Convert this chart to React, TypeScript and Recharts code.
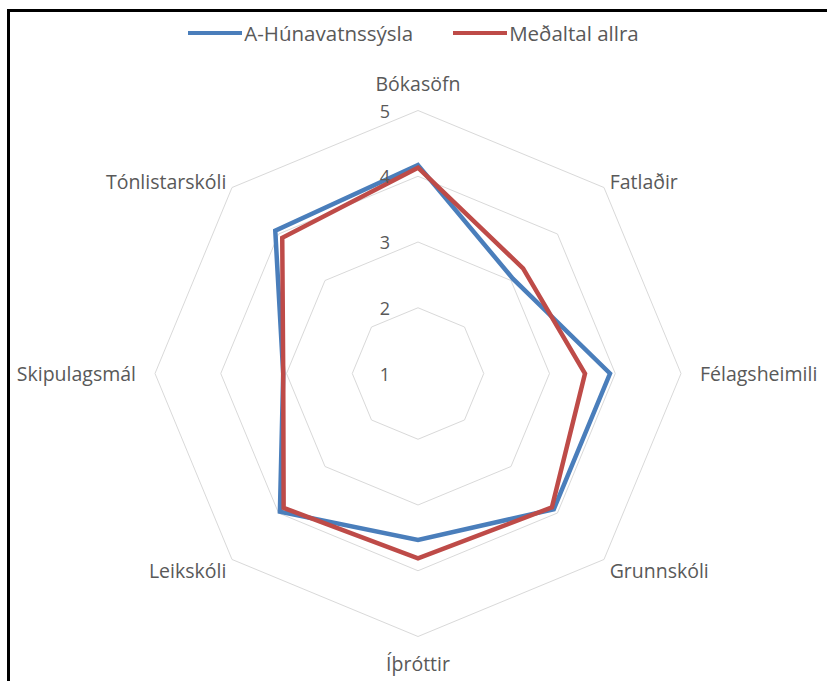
import { PolarAngleAxis, PolarGrid, PolarRadiusAxis, Radar, RadarChart } from "recharts";

const categories = [
  "Bókasöfn",
  "Fatlaðir",
  "Félagsheimili",
  "Grunnskóli",
  "Íþróttir",
  "Leikskóli",
  "Skipulagsmál",
  "Tónlistarskóli",
];
const husValues = [4.17, 3.04, 3.92, 3.92, 3.53, 3.97, 3.05, 4.07];
const avgValues = [4.13, 3.26, 3.54, 3.88, 3.81, 3.89, 3.05, 3.92];
const seriesNames = ["A-Húnavatnssýsla", "Meðaltal allra"];
const radiusTicks = [1, 2, 3, 4, 5];

const data = categories.map((name, i) => ({
  name,
  hus: husValues[i],
  avg: avgValues[i],
}));

const CX = 418;
const CY = 373.5;
const FONT = "'Open Sans', Lato, sans-serif";
const TEXT = "#595959";
const BLUE = "#4a7ebb";
const RED = "#be4b48";

function AngleTick(props: any) {
  const { x, y, payload } = props;
  const dx = x - CX;
  const dy = y - CY;
  let anchor = "middle";
  let tx = x;
  let ty = y;
  if (Math.abs(dx) < 1) {
    ty = y + (dy < 0 ? -19 : 19);
  } else if (Math.abs(dy) < 1) {
    anchor = dx > 0 ? "start" : "end";
    tx = x + (dx > 0 ? 11 : -11);
  } else {
    anchor = dx > 0 ? "start" : "end";
    ty = y + (dy > 0 ? 5 : 0);
  }
  return (
    <text
      x={tx}
      y={ty}
      textAnchor={anchor}
      dominantBaseline="central"
      fontSize={19.5}
      fontFamily={FONT}
      fill={TEXT}
    >
      {payload.value}
    </text>
  );
}

function RadiusTick(props: any) {
  const { x, y, payload } = props;
  return (
    <text
      x={x - 33}
      y={y}
      textAnchor="middle"
      dominantBaseline="central"
      fontSize={18}
      fontFamily={FONT}
      fill={TEXT}
    >
      {payload.value}
    </text>
  );
}

export default function App() {
  const colors = [BLUE, RED];
  return (
    <div
      style={{
        position: "absolute",
        left: 0,
        top: 0,
        width: 827,
        height: 681,
        background: "#fff",
        overflow: "hidden",
      }}
    >
      <div
        style={{
          position: "absolute",
          left: 7,
          top: 9,
          width: 830,
          height: 680,
          borderTop: "3px solid #000",
          borderLeft: "3px solid #000",
        }}
      />
      <div
        style={{
          position: "absolute",
          top: 19,
          left: 0,
          width: 827,
          display: "flex",
          justifyContent: "center",
          gap: 40,
          fontFamily: FONT,
          fontSize: 20.5,
          color: TEXT,
        }}
      >
        {seriesNames.map((n, i) => (
          <div key={n} style={{ display: "flex", alignItems: "center" }}>
            <div style={{ width: 54, height: 4, background: colors[i], marginRight: 2 }} />
            <span>{n}</span>
          </div>
        ))}
      </div>
      <div style={{ position: "absolute", left: 0, top: 0 }}>
        <RadarChart
          width={827}
          height={681}
          data={data}
          cx={CX}
          cy={CY}
          outerRadius={263}
          margin={{ top: 0, right: 0, bottom: 0, left: 0 }}
        >
          <PolarGrid gridType="polygon" radialLines={false} stroke="#d9d9d9" strokeWidth={1} />
          <PolarAngleAxis dataKey="name" tick={<AngleTick />} tickLine={false} axisLine={false} />
          <PolarRadiusAxis
            angle={90}
            domain={[1, 5]}
            ticks={radiusTicks as any}
            tickCount={5}
            axisLine={false}
            tickLine={false}
            tick={<RadiusTick />}
          />
          <Radar
            name={seriesNames[0]}
            dataKey="hus"
            stroke={BLUE}
            strokeWidth={4.5}
            fill="none"
            fillOpacity={0}
            dot={false}
            isAnimationActive={false}
          />
          <Radar
            name={seriesNames[1]}
            dataKey="avg"
            stroke={RED}
            strokeWidth={4.5}
            fill="none"
            fillOpacity={0}
            dot={false}
            isAnimationActive={false}
          />
        </RadarChart>
      </div>
    </div>
  );
}
